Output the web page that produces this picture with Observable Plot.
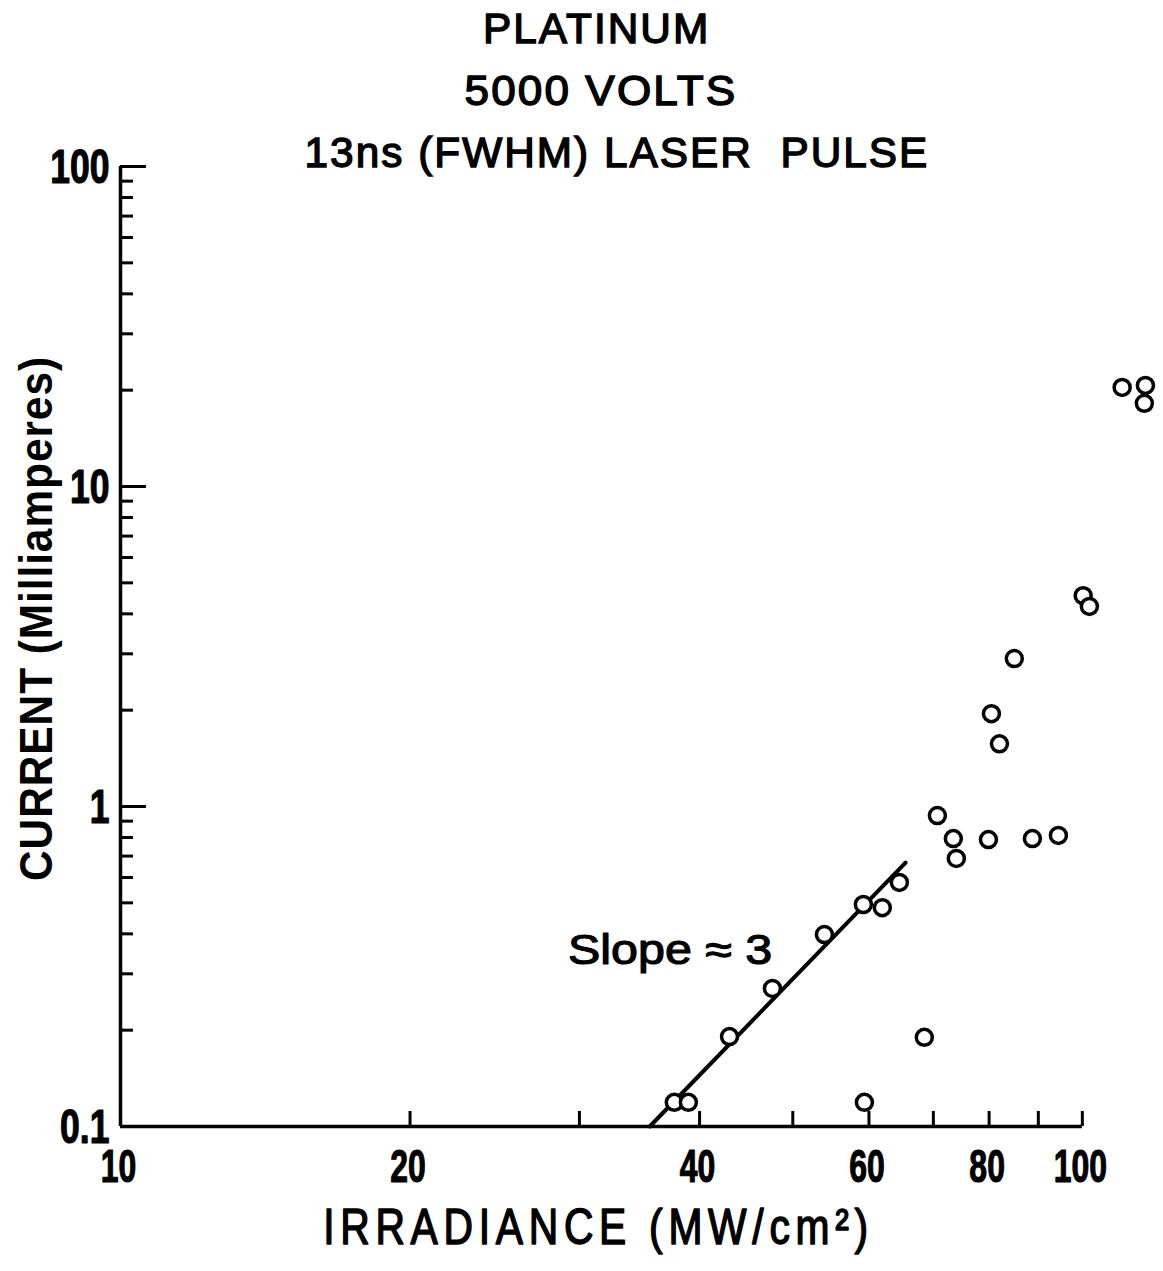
<!DOCTYPE html>
<html>
<head>
<meta charset="utf-8">
<script src="https://cdn.jsdelivr.net/npm/d3@7"></script>
<script src="https://cdn.jsdelivr.net/npm/@observablehq/plot@0.6"></script>
<style>
  body { margin: 0; background: #fff; }
  #fig { position: relative; width: 1163px; height: 1271px; background: #fff; overflow: hidden; }
  #title { position: absolute; left: 0; top: 0; width: 1163px; height: 0; z-index: 1; }
  #title span {
    position: absolute; white-space: pre; color: #000;
    font-family: "Liberation Sans", Arial, sans-serif;
    font-size: 42px; line-height: 42px; font-weight: normal;
    -webkit-text-stroke: 1.4px #000; letter-spacing: 2px;
    transform-origin: 50% 50%;
  }
</style>
</head>
<body>
<div id="fig">
  <div id="title">
    <span data-center="596" data-base="43" data-width="227">PLATINUM</span>
    <span data-center="601" data-base="105" data-width="273">5000 VOLTS</span>
    <span data-center="617" data-base="167" data-width="625">13ns (FWHM) LASER  PULSE</span>
  </div>
</div>
<script>
// Measured emission current against laser irradiance (platinum, 5000 V, 13 ns pulse)
const irradiance = [37.65, 38.94, 42.97, 47.62, 53.93, 59.20, 61.95, 64.53, 59.35, 68.50,
                    70.68, 73.43, 73.96, 79.87, 80.44, 82.0, 84.97, 88.73, 94.43, 100.2,
                    101.7, 110.0, 116.3, 116.0];
const current    = [0.119, 0.119, 0.191, 0.270, 0.398, 0.494, 0.483, 0.579, 0.119, 0.190,
                    0.937, 0.794, 0.688, 0.788, 1.95, 1.57, 2.90, 0.794, 0.812, 4.56,
                    4.22, 20.4, 20.7, 18.2];

// Fitted line through the low-irradiance points
const fitIrradiance = [35.5, 65.5];
const fitCurrent    = [0.1, 0.668];
const slopeLabel = "Slope \u2248 3";
const slopeLabelAt = {x: 29.2, y: 0.323};

// Axis ticks and labels
const xTickValues = [20, 30, 40, 50, 60, 70, 80, 90, 100];
const xTickLabels = [10, 20, 40, 60, 80, 100];
const yMajorTicks = [1, 10, 100];
const yMinorTicks = [0.2, 0.3, 0.4, 0.5, 0.6, 0.7, 0.8, 0.9,
                     2, 3, 4, 5, 6, 7, 8, 9,
                     20, 30, 40, 50, 60, 70, 80, 90];
const yTickLabels = [0.1, 1, 10, 100];
const xLabel = "IRRADIANCE (MW/cm\u00B2)";
const yLabel = "CURRENT (Milliamperes)";

const points = irradiance.map((x, i) => ({x, y: current[i]}));
const fit = fitIrradiance.map((x, i) => ({x, y: fitCurrent[i]}));

const font = '"Liberation Sans", Arial, sans-serif';
const ink = "#000";

const chart = Plot.plot({
  width: 1163,
  height: 1271,
  marginLeft: 120,
  marginRight: 5,
  marginTop: 166,
  marginBottom: 145,
  style: {background: "#fff", color: ink, fontFamily: font},
  x: {type: "log", domain: [10, 120], axis: null},
  y: {type: "log", domain: [0.1, 100], axis: null},
  marks: [
    // axis lines
    Plot.ruleX([10], {y1: 0.1, y2: 100, strokeWidth: 3.5, stroke: ink}),
    Plot.ruleY([0.1], {x1: 10, x2: 100, strokeWidth: 3.5, stroke: ink}),
    // inward ticks
    Plot.ruleY(yMajorTicks, {y: d => d, x1: 10, x2: 10, insetRight: -26, strokeWidth: 3, stroke: ink}),
    Plot.ruleY(yMinorTicks, {y: d => d, x1: 10, x2: 10, insetRight: -13, strokeWidth: 3, stroke: ink}),
    Plot.ruleX(xTickValues, {x: d => d, y1: 0.1, y2: 0.1, insetBottom: 15, strokeWidth: 3, stroke: ink}),
    // text marks, in this order: y tick labels, x tick labels, y title, x title, slope label
    Plot.text(yTickLabels, {x: 10, y: d => d, text: d => String(d), textAnchor: "end", dx: -11, dy: 1,
      fontSize: 48, fontWeight: "bold", fill: ink, stroke: ink, strokeWidth: 1.2}),
    Plot.text(xTickLabels, {x: d => d, y: 0.1, text: d => String(d), dx: -2, dy: 40,
      fontSize: 47, fontWeight: "bold", fill: ink, stroke: ink, strokeWidth: 1.2}),
    Plot.text([yLabel], {frameAnchor: "left", rotate: -90, textAnchor: "middle", dx: -83, dy: -28,
      fontSize: 46, fontWeight: "bold", fill: ink}),
    Plot.text([xLabel], {frameAnchor: "bottom", textAnchor: "middle", dx: -41, dy: 117,
      fontSize: 50, fontWeight: "normal", fill: ink, stroke: ink, strokeWidth: 1.5}),
    Plot.text([slopeLabel], {x: () => slopeLabelAt.x, y: () => slopeLabelAt.y, textAnchor: "start",
      lineAnchor: "bottom", fontSize: 42, fontWeight: "normal", fill: ink, stroke: ink, strokeWidth: 1.2}),
    // fitted line
    Plot.line(fit, {x: "x", y: "y", strokeWidth: 4, stroke: ink}),
    // measurements
    Plot.dot(points, {x: "x", y: "y", r: 8, stroke: ink, strokeWidth: 3.5, fill: "#fff"})
  ]
});

const fig = document.getElementById("fig");
fig.appendChild(chart);
chart.style.position = "absolute";
chart.style.left = "0";
chart.style.top = "0";

// Narrow the lettering horizontally, keeping each label's anchor point fixed
function squeeze(selection, k) {
  selection.each(function () {
    const t = this.getAttribute("transform") || "";
    this.setAttribute("transform", `${t} scale(${k},1)`);
  });
}
function fitWidth(selection, target) {
  selection.each(function () {
    const w = this.getBBox().width;
    const t = this.getAttribute("transform") || "";
    this.setAttribute("transform", `${t} scale(${target / w},1)`);
  });
}
const textGroups = chart.querySelectorAll('g[aria-label="text"]');
const [yTickG, xTickG, yTitleG, xTitleG, slopeG] = Array.from(textGroups).map(g => d3.select(g));
squeeze(yTickG.selectAll("text"), 0.74);
squeeze(xTickG.selectAll("text"), 0.68);
xTitleG.select("text").attr("letter-spacing", 7);
fitWidth(xTitleG.select("text"), 551);
yTitleG.select("text").attr("letter-spacing", 1);
fitWidth(yTitleG.select("text"), 525);
fitWidth(slopeG.select("text"), 204);

// Title lines: centred and sized to their lettered widths
document.querySelectorAll("#title span").forEach(span => {
  const w = span.offsetWidth;
  const cx = +span.dataset.center, base = +span.dataset.base, target = +span.dataset.width;
  span.style.left = `${cx - w / 2}px`;
  span.style.top = `${base - 35}px`;
  span.style.transform = `scaleX(${target / w})`;
});
</script>
</body>
</html>
